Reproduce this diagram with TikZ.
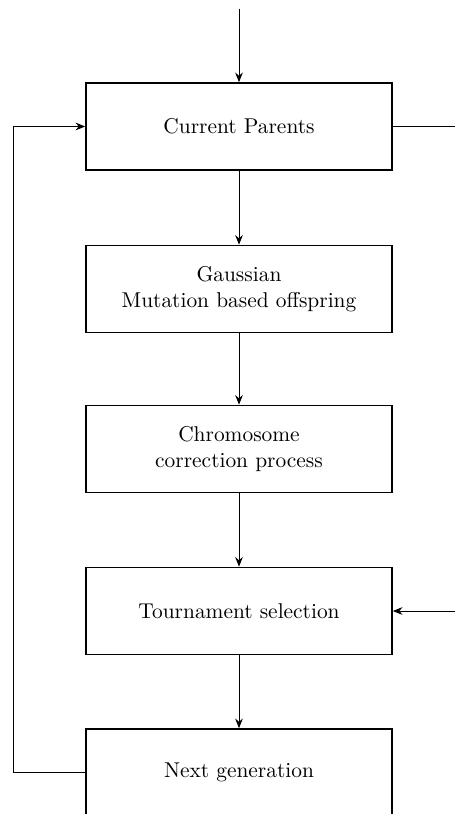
\documentclass[tikz,border=0pt]{standalone}
\usetikzlibrary{arrows.meta}
\begin{document}
\begin{tikzpicture}[x=0.467pt,y=-0.467pt,
  box/.style={draw,line width=0.8pt,minimum width=142.9pt,minimum height=40.6pt,align=center,inner sep=2pt},
  conn/.style={line width=0.45pt,-{Stealth[length=4.5pt,width=3.6pt,inset=1.5pt]}},
  plain/.style={line width=0.45pt}]
\useasboundingbox (0,0) rectangle (455,814);
\clip (0,0) rectangle (455,814);
\node[box] (cp) at (239,126.5) {Current Parents};
\node[box] (gm) at (239,289) {Gaussian\\Mutation based offspring};
\node[box] (cc) at (239,449) {Chromosome\\correction process};
\node[box] (ts) at (239,611) {Tournament selection};
\node[box] (ng) at (239,772.5) {Next generation};
\coordinate (top) at (239,9);
\coordinate (rout) at (455,126.5);
\coordinate (rin) at (455,611);
\coordinate (lb) at (13,772.5);
\coordinate (lt) at (13,126.5);
\draw[conn] (top) -- (cp);
\draw[conn] (cp) -- (gm);
\draw[conn] (gm) -- (cc);
\draw[conn] (cc) -- (ts);
\draw[conn] (ts) -- (ng);
\draw[plain] (cp.east) -- (rout);
\draw[conn] (rin) -- (ts.east);
\draw[conn] (ng.west) -- (lb) -- (lt) -- (cp.west);
\end{tikzpicture}
\end{document}
